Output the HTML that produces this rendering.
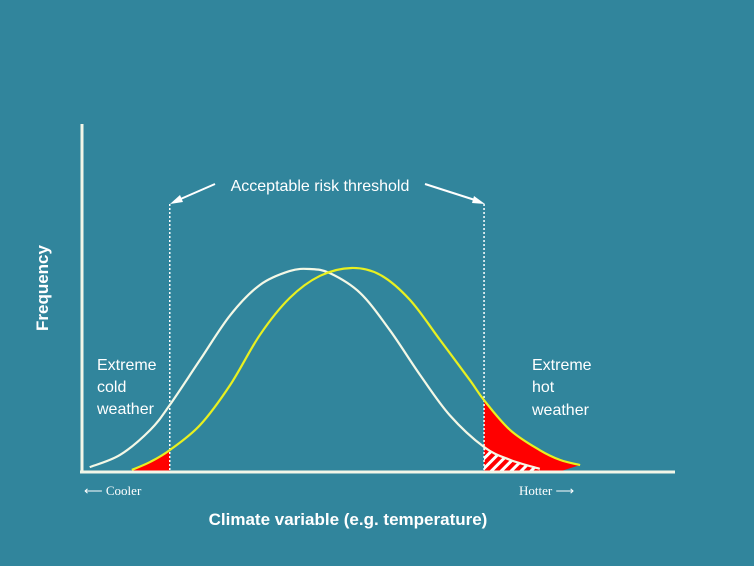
<!DOCTYPE html>
<html><head><meta charset="utf-8"><style>
html,body{margin:0;padding:0;background:#31859c;}
svg{display:block;font-family:"Liberation Sans",sans-serif;}
</style></head><body>
<svg id="chart" width="754" height="566" viewBox="0 0 754 566">
<defs>
<pattern id="hatch" patternUnits="userSpaceOnUse" width="7" height="7" patternTransform="rotate(45)">
<rect width="7" height="7" fill="#ff0000"/><rect width="3" height="7" fill="#ffffff"/>
</pattern>
</defs>
<rect width="754" height="566" fill="#31859c"/>
<g id="marks"></g>
<line x1="82" y1="124" x2="82" y2="473" stroke="#f2f6e8" stroke-width="3"/>
<line x1="80" y1="472" x2="675" y2="472" stroke="#f2f6e8" stroke-width="3"/>
<text x="48" y="288" transform="rotate(-90 48 288)" text-anchor="middle" fill="#fff" font-weight="bold" font-size="17">Frequency</text>
<text x="348" y="525" text-anchor="middle" fill="#fff" font-weight="bold" font-size="17">Climate variable (e.g. temperature)</text>
<text x="84" y="495" fill="#fff" font-size="13" font-family="Liberation Serif,serif">⟵ Cooler</text>
<text x="519" y="495" fill="#fff" font-size="13" font-family="Liberation Serif,serif">Hotter ⟶</text>
<text x="320" y="191" text-anchor="middle" fill="#fff" font-size="16">Acceptable risk threshold</text>
<g stroke="#fff" stroke-width="2" fill="#fff">
<line x1="215" y1="184" x2="176" y2="201"/><polygon points="170,204 180,195 183,202" stroke="none"/>
<line x1="425" y1="184" x2="478" y2="201"/><polygon points="485,204 474,196 472,203" stroke="none"/>
</g>
<g fill="#fff" font-size="16">
<text x="97" y="370">Extreme</text><text x="97" y="392">cold</text><text x="97" y="414">weather</text></g>
<g fill="#fff" font-size="16">
<text x="532" y="370">Extreme</text><text x="532" y="392">hot</text><text x="532" y="415">weather</text></g>
</svg>
<script>
const whiteX=[1.3,6.4,11.5,14.8,19.9,25,30,35,38.4,41.8,46.9,51.9,57,62,67.8,72.2,77.2];
const whiteY=[1.4,4.9,12.1,19.3,32.3,45.2,53.9,57.9,58.5,57.3,51.6,40.9,28,16.4,7.2,3.5,0.9];
const yellowX=[8.4,11.5,14.8,19.9,25,30,35,40.1,45.5,50.3,55.3,60.4,65.4,67.8,72.2,77.2,80.6,84];
const yellowY=[0.6,2.9,6.3,13.5,25.1,39.5,50.1,56.5,58.8,56.8,49.6,38,26.5,20.7,12.1,6.3,3.5,2];
const thresholds=[14.8,67.8];
const sx=v=>82+v/100*593, sy=v=>472-v/100*347;
const NS="http://www.w3.org/2000/svg";
const g=document.getElementById('marks');
function pts(X,Y){return X.map((x,i)=>[sx(x),sy(Y[i])]);}
function spline(p){let d=`M${p[0][0]},${p[0][1]}`;for(let i=0;i<p.length-1;i++){const p0=p[i-1]||p[i],p1=p[i],p2=p[i+1],p3=p[i+2]||p2;
d+=`C${p1[0]+(p2[0]-p0[0])/6},${p1[1]+(p2[1]-p0[1])/6} ${p2[0]-(p3[0]-p1[0])/6},${p2[1]-(p3[1]-p1[1])/6} ${p2[0]},${p2[1]}`;}return d;}
function mk(tag,attrs){const e=document.createElementNS(NS,tag);for(const k in attrs)e.setAttribute(k,attrs[k]);g.appendChild(e);return e;}
const wp=pts(whiteX,whiteY), yp=pts(yellowX,yellowY);
const base=sy(0);
const defs=document.querySelector('defs');
function clip(id,x1,x2){const c=document.createElementNS(NS,'clipPath');c.setAttribute('id',id);const r=document.createElementNS(NS,'rect');r.setAttribute('x',x1);r.setAttribute('y',0);r.setAttribute('width',x2-x1);r.setAttribute('height',base);c.appendChild(r);defs.appendChild(c);}
clip('cl',0,sx(thresholds[0]));clip('cr',sx(thresholds[1]),754);
const last=yp[yp.length-1];
const yArea=spline(yp)+`L${last[0]},${base}L${yp[0][0]},${base}Z`;
const yAreaR=spline(yp)+`L${last[0]},${last[1]}L${last[0]-22},${base}L${yp[0][0]},${base}Z`;
const wArea=spline(wp)+`L${wp[wp.length-1][0]},${base}L${wp[0][0]},${base}Z`;
let e;
e=mk('path',{d:yArea,fill:'#ff0000','clip-path':'url(#cl)'});


e=mk('path',{d:yAreaR,fill:'#ff0000','clip-path':'url(#cr)'});


e=mk('path',{d:wArea,fill:'url(#hatch)','clip-path':'url(#cr)'});


thresholds.forEach((t,i)=>{
e=mk('line',{x1:sx(t),x2:sx(t),y1:204,y2:base,stroke:'#fff','stroke-width':1.5,'stroke-dasharray':'2,2'});


});
e=mk('path',{d:spline(wp),fill:'none',stroke:'#f4f8e6','stroke-width':2.2});


e=mk('path',{d:spline(yp),fill:'none',stroke:'#e8f020','stroke-width':2.2});


</script>
</body></html>
